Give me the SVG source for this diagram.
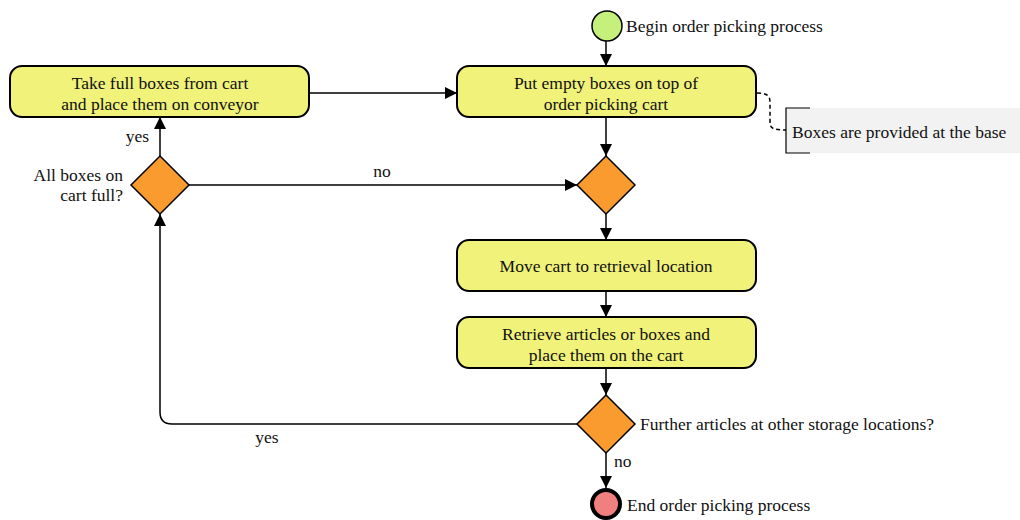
<svg xmlns="http://www.w3.org/2000/svg" width="1020" height="520" viewBox="0 0 1020 520">
  <defs>
    <marker id="arrow" viewBox="0 0 12 12" refX="12" refY="6" markerWidth="12" markerHeight="12" markerUnits="userSpaceOnUse" orient="auto">
      <path d="M0,0 L12,6 L0,12 Z" fill="#000"/>
    </marker>
    <style>
      text { font-family: "Liberation Serif", "Times New Roman", serif; font-size: 17.5px; fill: #111; }
      .act { fill: #f0f27a; stroke: #000; stroke-width: 2; }
      .dec { fill: #f99b2f; stroke: #000; stroke-width: 1.5; }
      .edge { fill: none; stroke: #000; stroke-width: 1.5; }
      .mid { text-anchor: middle; }
      .end { text-anchor: end; }
    </style>
  </defs>

  <rect width="1020" height="520" fill="#fff"/>

  <!-- connectors -->
  <g id="connectors">
    <line class="edge" x1="606" y1="41" x2="606" y2="66" marker-end="url(#arrow)"/>
    <line class="edge" x1="606" y1="117" x2="606" y2="156" marker-end="url(#arrow)"/>
    <line class="edge" x1="606" y1="214" x2="606" y2="240" marker-end="url(#arrow)"/>
    <line class="edge" x1="606" y1="291" x2="606" y2="317" marker-end="url(#arrow)"/>
    <line class="edge" x1="606" y1="368" x2="606" y2="395" marker-end="url(#arrow)"/>
    <line class="edge" x1="606" y1="453" x2="606" y2="488" marker-end="url(#arrow)"/>
    <path class="edge" d="M577,424 H172 Q160,424 160,412 V214" marker-end="url(#arrow)"/>
    <line class="edge" x1="160" y1="156" x2="160" y2="117" marker-end="url(#arrow)"/>
    <line class="edge" x1="189" y1="185" x2="577" y2="185" marker-end="url(#arrow)"/>
    <line class="edge" x1="309" y1="93" x2="457" y2="93" marker-end="url(#arrow)"/>
    <path class="edge" d="M757,93 C770,93 770,98 770,104 V122 C770,128 772,130 786,130" stroke-dasharray="4,3"/>
    <text x="614" y="467">no</text>
    <text x="267" y="443" class="mid">yes</text>
    <text x="149" y="142" class="end">yes</text>
    <text x="382" y="177" class="mid">no</text>
  </g>

  <!-- start -->
  <g id="start">
    <circle cx="607" cy="26" r="15" fill="#c6f07c" stroke="#000" stroke-width="1.5"/>
    <text x="626" y="32">Begin order picking process</text>
  </g>

  <!-- put empty boxes -->
  <g id="put-boxes">
    <rect class="act" x="457" y="66" width="299" height="51" rx="12"/>
    <text x="606" y="89" class="mid">Put empty boxes on top of</text>
    <text x="606" y="110" class="mid">order picking cart</text>
  </g>

  <!-- note -->
  <g id="note">
    <rect x="786" y="108" width="234" height="45" fill="#f2f2f2"/>
    <path d="M810,108 H786 V153 H810" fill="none" stroke="#000" stroke-width="1.2"/>
    <text x="792" y="138">Boxes are provided at the base</text>
  </g>

  <!-- take full boxes -->
  <g id="take-boxes">
    <rect class="act" x="10" y="66" width="299" height="51" rx="12"/>
    <text x="160" y="89" class="mid">Take full boxes from cart</text>
    <text x="160" y="110" class="mid">and place them on conveyor</text>
  </g>

  <!-- decision: all boxes full -->
  <g id="all-full">
    <polygon class="dec" points="160,156 189,185 160,214 131,185"/>
    <text x="123" y="181" class="end">All boxes on</text>
    <text x="123" y="201" class="end">cart full?</text>
  </g>

  <!-- merge -->
  <g id="merge">
    <polygon class="dec" points="606,156 635,185 606,214 577,185"/>
  </g>

  <!-- move cart -->
  <g id="move-cart">
    <rect class="act" x="457" y="240" width="299" height="51" rx="12"/>
    <text x="606" y="272" class="mid">Move cart to retrieval location</text>
  </g>

  <!-- retrieve -->
  <g id="retrieve">
    <rect class="act" x="457" y="317" width="299" height="51" rx="12"/>
    <text x="606" y="340" class="mid">Retrieve articles or boxes and</text>
    <text x="606" y="361" class="mid">place them on the cart</text>
  </g>

  <!-- decision: further articles -->
  <g id="further">
    <polygon class="dec" points="606,395 635,424 606,453 577,424"/>
    <text x="640" y="430">Further articles at other storage locations?</text>
  </g>

  <!-- end -->
  <g id="end">
    <circle cx="606" cy="504" r="14" fill="#f08080" stroke="#000" stroke-width="4"/>
    <text x="627" y="511">End order picking process</text>
  </g>
</svg>
